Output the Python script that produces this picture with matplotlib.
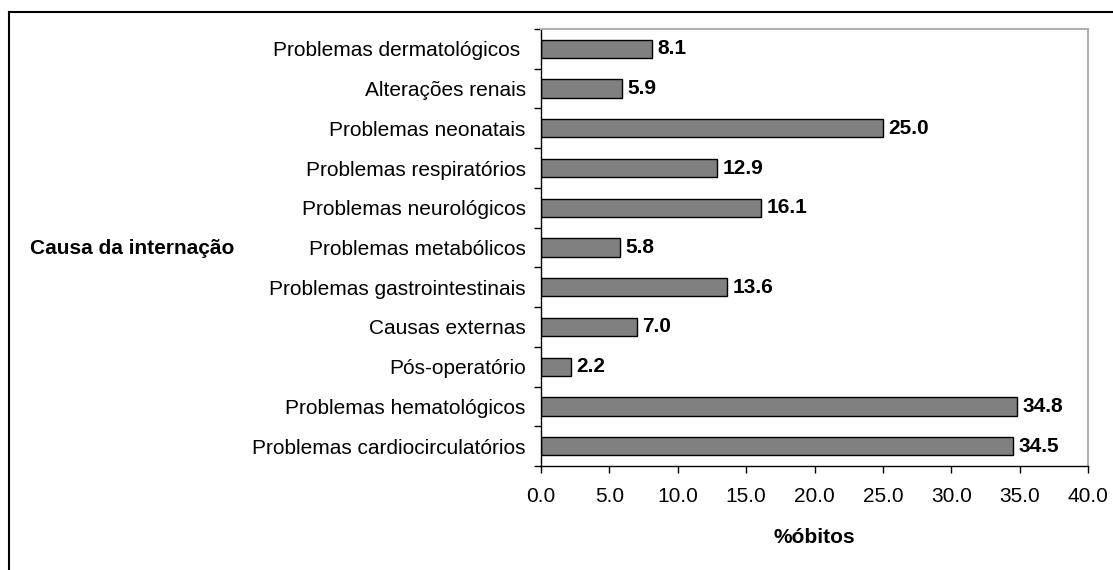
import matplotlib.pyplot as plt
from matplotlib.lines import Line2D

plt.rcParams['font.family'] = ['Liberation Sans', 'DejaVu Sans']

causas = ["Problemas cardiocirculatórios", "Problemas hematológicos", "Pós-operatório",
          "Causas externas", "Problemas gastrointestinais", "Problemas metabólicos",
          "Problemas neurológicos", "Problemas respiratórios", "Problemas neonatais",
          "Alterações renais", "Problemas dermatológicos "]
obitos = [34.5, 34.8, 2.2, 7.0, 13.6, 5.8, 16.1, 12.9, 25.0, 5.9, 8.1]
xticks = [0, 5, 10, 15, 20, 25, 30, 35, 40]

fig = plt.figure(figsize=(11.13, 5.70), dpi=100)
ax = fig.add_axes([541 / 1113, 1 - 466 / 570, (1088 - 541) / 1113, (466 - 29) / 570])

y = list(range(len(causas)))
ax.barh(y, obitos, height=0.46, color="#808080", edgecolor="black", linewidth=1.0)
for yi, v in zip(y, obitos):
    ax.annotate(f"{v:.1f}", (v, yi), xytext=(4, 0), textcoords="offset points",
                va="center", ha="left", fontsize=15, fontweight="bold")

ax.set_xlim(0, 40)
ax.set_ylim(-0.5, len(causas) - 0.5)
ax.set_xticks(xticks)
ax.set_xticklabels([f"{t:.1f}" for t in xticks], fontsize=15)
ax.set_yticks(y)
ax.set_yticklabels(causas, fontsize=15)
ax.tick_params(axis="y", length=0, pad=11)
ax.set_yticks([i - 0.5 for i in range(len(causas) + 1)], minor=True)
ax.tick_params(axis="y", which="minor", length=5, direction="out", width=1)
ax.tick_params(axis="x", length=5, direction="out", width=1, pad=10)

for s in ["top", "right"]:
    ax.spines[s].set_color("#b0b0b0")
    ax.spines[s].set_linewidth(1.5)
for s in ["left", "bottom"]:
    ax.spines[s].set_color("black")
    ax.spines[s].set_linewidth(1.0)

ax.set_xlabel("%óbitos", fontsize=15, fontweight="bold", labelpad=16)
fig.text(30 / 1113, 1 - 248 / 570, "Causa da internação", fontsize=15, fontweight="bold",
         va="center", ha="left")

# moldura externa
fig.add_artist(Line2D([9 / 1113, 1], [1 - 12 / 570, 1 - 12 / 570], color="black", lw=1.5))
fig.add_artist(Line2D([9 / 1113, 9 / 1113], [0, 1 - 12 / 570], color="black", lw=1.5))

fig.savefig("out.png", dpi=100)
